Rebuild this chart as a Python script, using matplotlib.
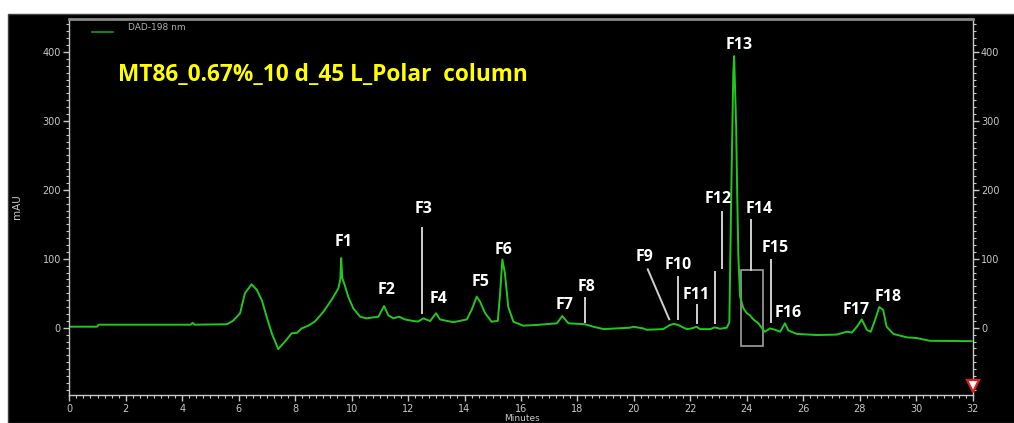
import numpy as np
import matplotlib
matplotlib.use('Agg')
import matplotlib.pyplot as plt
from matplotlib.lines import Line2D
from matplotlib.patches import Rectangle
from matplotlib.ticker import MultipleLocator

# Chromatogram trace (minutes, mAU)
time_min = [0.0, 0.98, 1.05, 4.30, 4.37, 4.44, 5.58, 5.80, 6.05, 6.22, 6.46, 6.64,
            6.82, 6.99, 7.17, 7.40, 7.64, 7.88, 8.06, 8.23, 8.47, 8.70, 9.00,
            9.30, 9.53, 9.60, 9.63, 9.67, 9.77, 9.88, 10.06, 10.30, 10.53,
            10.95, 11.15, 11.30, 11.48, 11.68, 11.89, 12.19, 12.36, 12.54,
            12.78, 12.99, 13.13, 13.60, 14.08, 14.25, 14.43, 14.55, 14.73,
            14.96, 15.18, 15.26, 15.34, 15.43, 15.55, 15.73, 16.08, 16.56,
            17.27, 17.46, 17.68, 18.27, 18.56, 18.92, 19.86, 19.98, 20.33,
            20.45, 21.04, 21.28, 21.42, 21.57, 21.69, 21.87, 22.05, 22.22,
            22.34, 22.70, 22.87, 23.05, 23.29, 23.38, 23.45, 23.52, 23.55,
            23.62, 23.66, 23.70, 23.76, 23.88, 24.00, 24.11, 24.23, 24.41,
            24.58, 24.64, 24.82, 25.00, 25.18, 25.35, 25.47, 25.77, 26.48,
            27.18, 27.54, 27.72, 27.90, 28.07, 28.25, 28.39, 28.54, 28.69,
            28.83, 28.95, 29.19, 29.67, 30.02, 30.48, 31.96]
signal_mau = [1.5, 1.5, 4.4, 4.4, 7.0, 4.4, 5.0, 10, 21, 50, 63, 55,
              40, 16, -8, -31, -20, -8, -7.5, -1, 3, 9, 23,
              41, 57, 70, 101, 72, 60, 45, 28, 16, 13.6,
              16, 31.5, 18, 13.6, 16, 12, 9.7, 9, 13.6,
              9.7, 21, 12, 8, 12, 25.7, 45, 37.7, 21,
              8.7, 10, 50, 99, 79, 30, 8.7, 3, 4,
              6.4, 17, 6.4, 5, 1.5, -2, 0, 1.4, -1,
              -3, -2, 4, 5.5, 4, 1.4, -2, -1, 1.4,
              -2, -2, 0.5, -1.5, 0, 8, 200, 370, 394,
              292, 190, 103, 45, 28, 21, 18, 12, 6.4,
              -3, -5.8, -1, -3, -5.8, 6.4, -4, -9, -10.6,
              -10, -5.8, -7, 1.5, 12, -3, -5.8, 11, 30,
              25.7, 1.5, -9, -14, -15, -19, -19.5]

# Fraction labels and where they sit (minutes, mAU)
frac_names = ['F1', 'F2', 'F3', 'F4', 'F5', 'F6', 'F7', 'F8', 'F9', 'F10',
              'F11', 'F12', 'F13', 'F14', 'F15', 'F16', 'F17', 'F18']
frac_x = [9.71, 11.24, 12.54, 13.07, 14.55, 15.40, 17.56, 18.33, 20.39, 21.57,
          22.22, 22.97, 23.73, 24.43, 25.02, 25.47, 27.89, 29.01]
frac_y = [124.8, 54.7, 171.8, 41.2, 66.7, 112.7, 32.9, 58.6, 102.1, 91,
          47, 186.7, 410.1, 172.2, 115.2, 20.9, 25.7, 44.1]

# pointer lines: (x0, y0, x1, y1)
pointers = [(12.48, 144.7, 12.48, 21.3), (18.27, 42.7, 18.27, 8.7),
            (20.49, 84.7, 21.25, 12.2), (21.56, 74, 21.56, 13.3),
            (22.22, 33, 22.22, 7.3), (23.11, 168.3, 23.11, 86.2),
            (22.87, 81.2, 22.87, 6.4), (24.15, 156.2, 24.15, 83.7),
            (24.85, 98.2, 24.85, 8.7)]

W, H = 1014, 423
fig = plt.figure(figsize=(W / 100, H / 100), dpi=100, facecolor='white')
fig.patches.append(Rectangle((8 / W, 0), 1, 1 - 14 / H, transform=fig.transFigure,
                             facecolor='black', edgecolor='#404040', lw=1, zorder=-10))

ax = fig.add_axes([69.3 / W, 1 - 395 / H, (972.7 - 69.3) / W, (395 - 19) / H])
ax.set_facecolor('black')
ax.plot(time_min, signal_mau, color='#22c81e', lw=1.4)
ax.set_xlim(0, 32)
ax.set_ylim(-97.6, 447.8)

tick_col = '#c8c8c8'
for side in ['left', 'right', 'bottom']:
    ax.spines[side].set_color(tick_col)
    ax.spines[side].set_linewidth(1.0)
ax.spines['top'].set_color('#8a8a8a')
ax.spines['top'].set_linewidth(2)

ax.xaxis.set_major_locator(MultipleLocator(2))
ax.xaxis.set_minor_locator(MultipleLocator(0.25))
ax.yaxis.set_major_locator(MultipleLocator(100))
ax.yaxis.set_minor_locator(MultipleLocator(10))
ax.tick_params(axis='both', which='major', colors=tick_col, labelsize=7,
               length=4, width=1, direction='out')
ax.tick_params(axis='both', which='minor', colors=tick_col, length=2, width=0.8,
               direction='out')
ax.tick_params(axis='y', which='both', right=True, labelright=True)
ax.tick_params(axis='y', which='major', pad=2)
ax.tick_params(axis='x', which='major', pad=2.5)
ax.set_yticks([0, 100, 200, 300, 400])
ax.set_xticks(np.arange(0, 33, 2))

# end-of-run marker
ax.plot([32], [-84.6], marker='v', ms=9, mfc='white', mec='#e0201a', mew=1.6,
        clip_on=False, zorder=5)

for x0, y0, x1, y1 in pointers:
    ax.plot([x0, x1], [y0, y1], color='#d0d0d0', lw=1.4)
ax.add_patch(Rectangle((23.79, -26.5), 24.58 - 23.79, 83.7 + 26.5, fill=False,
                       edgecolor='#a0a0a0', lw=1.2))

for name, x, y in zip(frac_names, frac_x, frac_y):
    ax.text(x, y, name, color='white', fontsize=11.5, fontweight='bold',
            family='Open Sans', ha='center', va='center')

fig.text(118 / W, 1 - 75 / H, 'MT86_0.67%_10 d_45 L_Polar  column', color='#ffff00',
         fontsize=16.3, fontweight='bold', family='Open Sans', ha='left', va='center')

# legend entry
fig.lines.append(Line2D([92 / W, 113 / W], [1 - 32 / H, 1 - 32 / H],
                        transform=fig.transFigure, color='#10a010', lw=1.2))
fig.text(128 / W, 1 - 27 / H, 'DAD-198 nm', color='#b0b0b0', fontsize=6.5,
         ha='left', va='center')

fig.text(17 / W, 1 - 207 / H, 'mAU', color=tick_col, fontsize=7.5, rotation=90,
         ha='center', va='center')
fig.text(522 / W, 0.5 / H, 'Minutes', color=tick_col, fontsize=6.5,
         ha='center', va='bottom')

fig.savefig('out.png', dpi=100, facecolor='white')
